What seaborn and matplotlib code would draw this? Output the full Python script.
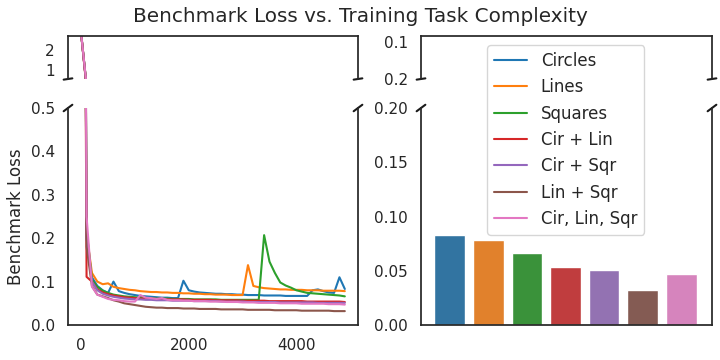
import pandas as pd
import seaborn as sns
import matplotlib.pyplot as plt

tasks = ["Circles", "Lines", "Squares", "Cir + Lin", "Cir + Sqr", "Lin + Sqr", "Cir, Lin, Sqr"]
steps = list(range(0, 5000, 100))

circles = [2.8, 0.20, 0.11, 0.09, 0.08, 0.074, 0.100, 0.078, 0.074, 0.071,
           0.069, 0.067, 0.066, 0.065, 0.064, 0.063, 0.063, 0.062, 0.062, 0.102,
           0.080, 0.077, 0.075, 0.074, 0.073, 0.072, 0.072, 0.071, 0.071, 0.070,
           0.070, 0.069, 0.069, 0.069, 0.068, 0.068, 0.068, 0.068, 0.067, 0.067,
           0.067, 0.067, 0.067, 0.080, 0.082, 0.078, 0.075, 0.074, 0.110, 0.083]
lines = [2.8, 0.21, 0.12, 0.100, 0.094, 0.096, 0.088, 0.085, 0.083, 0.081,
         0.080, 0.078, 0.077, 0.076, 0.076, 0.075, 0.075, 0.074, 0.074, 0.073,
         0.073, 0.072, 0.072, 0.071, 0.071, 0.070, 0.070, 0.070, 0.069, 0.069,
         0.069, 0.138, 0.090, 0.087, 0.085, 0.084, 0.083, 0.082, 0.082, 0.081,
         0.081, 0.081, 0.080, 0.080, 0.080, 0.079, 0.079, 0.079, 0.079, 0.078]
squares = [2.8, 0.22, 0.104, 0.088, 0.079, 0.074, 0.070, 0.068, 0.066, 0.065,
           0.064, 0.063, 0.062, 0.062, 0.061, 0.061, 0.061, 0.060, 0.060, 0.060,
           0.060, 0.059, 0.059, 0.059, 0.059, 0.059, 0.058, 0.058, 0.058, 0.058,
           0.058, 0.058, 0.058, 0.058, 0.207, 0.146, 0.120, 0.098, 0.091, 0.086,
           0.080, 0.077, 0.074, 0.073, 0.072, 0.071, 0.070, 0.069, 0.068, 0.066]
cir_lin = [2.8, 0.111, 0.100, 0.082, 0.075, 0.071, 0.068, 0.066, 0.064, 0.063,
           0.062, 0.061, 0.061, 0.060, 0.060, 0.060, 0.059, 0.059, 0.059, 0.059,
           0.058, 0.058, 0.058, 0.058, 0.058, 0.057, 0.057, 0.057, 0.057, 0.057,
           0.056, 0.056, 0.056, 0.056, 0.056, 0.055, 0.055, 0.055, 0.055, 0.055,
           0.055, 0.055, 0.054, 0.054, 0.054, 0.054, 0.054, 0.054, 0.054, 0.053]
cir_sqr = [2.8, 0.20, 0.100, 0.080, 0.072, 0.068, 0.065, 0.063, 0.061, 0.060,
           0.059, 0.059, 0.058, 0.058, 0.057, 0.057, 0.057, 0.056, 0.056, 0.056,
           0.056, 0.055, 0.055, 0.055, 0.055, 0.055, 0.054, 0.054, 0.054, 0.054,
           0.054, 0.053, 0.053, 0.053, 0.053, 0.053, 0.053, 0.052, 0.052, 0.052,
           0.052, 0.052, 0.052, 0.052, 0.051, 0.051, 0.051, 0.051, 0.051, 0.051]
lin_sqr = [2.8, 0.18, 0.090, 0.070, 0.066, 0.062, 0.057, 0.054, 0.050, 0.048,
           0.046, 0.044, 0.042, 0.041, 0.040, 0.040, 0.039, 0.039, 0.039, 0.038,
           0.038, 0.038, 0.037, 0.037, 0.037, 0.037, 0.036, 0.036, 0.036, 0.036,
           0.036, 0.035, 0.035, 0.035, 0.035, 0.035, 0.034, 0.034, 0.034, 0.034,
           0.034, 0.033, 0.033, 0.033, 0.033, 0.033, 0.033, 0.032, 0.032, 0.032]
cir_lin_sqr = [2.8, 0.25, 0.088, 0.070, 0.065, 0.060, 0.058, 0.057, 0.055, 0.054,
               0.054, 0.069, 0.063, 0.062, 0.060, 0.062, 0.058, 0.057, 0.057, 0.056,
               0.056, 0.055, 0.055, 0.055, 0.054, 0.054, 0.054, 0.053, 0.053, 0.053,
               0.052, 0.052, 0.052, 0.051, 0.051, 0.051, 0.051, 0.050, 0.050, 0.050,
               0.050, 0.049, 0.049, 0.049, 0.049, 0.049, 0.048, 0.048, 0.048, 0.047]

final_loss = [0.083, 0.078, 0.066, 0.053, 0.051, 0.032, 0.047]

series = [circles, lines, squares, cir_lin, cir_sqr, lin_sqr, cir_lin_sqr]
df = pd.concat([pd.DataFrame({"step": steps, "loss": vals, "task": name})
                for name, vals in zip(tasks, series)], ignore_index=True)

sns.set_theme(style="white")
plt.rcParams["legend.fontsize"] = 12

fig = plt.figure(figsize=(7.2, 3.6), dpi=100)
ax_lt = fig.add_axes([68/720, 1-79/360, 290/720, 43/360])
ax_lb = fig.add_axes([68/720, 1-325/360, 290/720, 217/360])
ax_rt = fig.add_axes([421/720, 1-79/360, 291/720, 43/360])
ax_rb = fig.add_axes([421/720, 1-325/360, 291/720, 217/360])

for ax in (ax_lt, ax_lb):
    sns.lineplot(data=df, x="step", y="loss", hue="task", hue_order=tasks,
                 palette="tab10", ax=ax, legend=(ax is ax_lb))
    ax.set_xlim(-245, 5145)
    ax.set_xlabel("")
    ax.set_ylabel("")

ax_lt.set_ylim(0.55, 2.7)
ax_lt.set_yticks([1, 2])
ax_lt.tick_params(labelbottom=False)
ax_lb.set_ylim(0, 0.5)
ax_lb.set_xticks([0, 2000, 4000])
ax_lb.set_ylabel("Benchmark Loss")

handles, labels = ax_lb.get_legend_handles_labels()
ax_lb.get_legend().remove()

sns.barplot(x=tasks, y=final_loss, hue=tasks, palette="tab10", legend=False, ax=ax_rb)
ax_rb.set_xlim(-0.75, 6.8)
ax_rb.set_ylim(0, 0.2)
ax_rb.set_yticks([0, 0.05, 0.10, 0.15, 0.20])
ax_rb.set_xticks([])
ax_rt.set_xlim(-0.75, 6.8)
ax_rt.set_ylim(0.2, 0.084)
ax_rt.set_yticks([0.1, 0.2])
ax_rt.set_xticks([])

# broken axis marks
d = .015
for top, bot in ((ax_lt, ax_lb), (ax_rt, ax_rb)):
    top.spines["bottom"].set_visible(False)
    bot.spines["top"].set_visible(False)
    kw = dict(transform=top.transAxes, color="k", clip_on=False, lw=1.5)
    top.plot((-d, +d), (-d, +d), **kw)
    top.plot((1 - d, 1 + d), (-d, +d), **kw)
    kw.update(transform=bot.transAxes)
    bot.plot((-d, +d), (1 - d, 1 + d), **kw)
    bot.plot((1 - d, 1 + d), (1 - d, 1 + d), **kw)

fig.legend(handles, labels, loc="upper left", bbox_to_anchor=(479/720, 1-37/360))
fig.suptitle("Benchmark Loss vs. Training Task Complexity")

plt.savefig("out.png")
plt.close()
